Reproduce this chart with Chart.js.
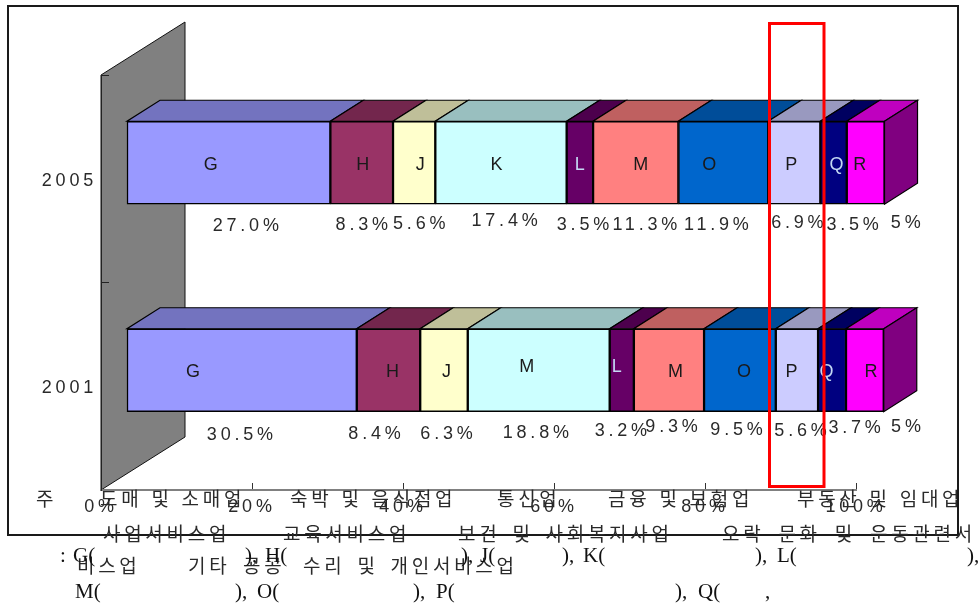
<!DOCTYPE html>
<html lang="ko">
<head>
<meta charset="utf-8">
<title>산업별 구성비</title>
<script src="https://cdn.jsdelivr.net/npm/chart.js@4"></script>
<style>
    html, body { margin: 0; padding: 0; background: #fff; overflow: hidden; }
    #wrap { position: relative; width: 979px; height: 604px; }
    canvas { position: absolute; left: 0; top: 0; }
    .ko, .en { position: absolute; white-space: pre; color: #2a2a2a; }
    .ko { font: 19px/18px "Noto Sans CJK KR", sans-serif; letter-spacing: 3.7px; }
    .en { font: 21px/22px "Liberation Serif", serif; color: #111; }
</style>
</head>
<body>
<div id="wrap">
    <canvas id="myChart" width="979" height="604"></canvas>

    <span class="ko" style="left:36px;top:489px">주</span>
    <span class="ko" style="left:100px;top:489px">도매 및 소매업</span>
    <span class="ko" style="left:290px;top:489px">숙박 및 음식점업</span>
    <span class="ko" style="left:497px;top:489px">통신업</span>
    <span class="ko" style="left:608px;top:489px">금융 및 보험업</span>
    <span class="ko" style="left:797px;top:489px">부동산 및 임대업</span>

    <span class="ko" style="left:103px;top:524px">사업서비스업</span>
    <span class="ko" style="left:283px;top:524px">교육서비스업</span>
    <span class="ko" style="left:458px;top:524px;word-spacing:3px">보건 및 사회복지사업</span>
    <span class="ko" style="left:722px;top:524px;word-spacing:5px">오락 문화 및 운동관련서</span>

    <span class="ko" style="left:77px;top:556px">비스업</span>
    <span class="ko" style="left:188px;top:556px">기타</span>
    <span class="ko" style="left:243px;top:556px">공공</span>
    <span class="ko" style="left:303px;top:556px;word-spacing:3px">수리 및 개인서비스업</span>

    <span class="en" style="left:60px;top:544px">:</span>
    <span class="en" style="left:73px;top:544px">G(</span>
    <span class="en" style="left:245px;top:544px">),</span>
    <span class="en" style="left:265px;top:544px">H(</span>
    <span class="en" style="left:461px;top:544px">),</span>
    <span class="en" style="left:480px;top:544px">J(</span>
    <span class="en" style="left:562px;top:544px">),</span>
    <span class="en" style="left:583px;top:544px">K(</span>
    <span class="en" style="left:755px;top:544px">),</span>
    <span class="en" style="left:777px;top:544px">L(</span>
    <span class="en" style="left:967px;top:544px">),</span>

    <span class="en" style="left:75px;top:580px">M(</span>
    <span class="en" style="left:235px;top:580px">),</span>
    <span class="en" style="left:257px;top:580px">O(</span>
    <span class="en" style="left:413px;top:580px">),</span>
    <span class="en" style="left:436px;top:580px">P(</span>
    <span class="en" style="left:675px;top:580px">),</span>
    <span class="en" style="left:698px;top:580px">Q(</span>
    <span class="en" style="left:765px;top:580px">,</span>
</div>

<script>
const years = ['2005', '2001'];
const sectors = ['G', 'H', 'J', 'K', 'L', 'M', 'O', 'P', 'Q', 'R'];
const values2005 = [27.0, 8.3, 5.6, 17.4, 3.5, 11.3, 11.9, 6.9, 3.5, 5];
const values2001 = [30.5, 8.4, 6.3, 18.8, 3.2, 9.3, 9.5, 5.6, 3.7, 5];
const letters2005 = ['G', 'H', 'J', 'K', 'L', 'M', 'O', 'P', 'Q', 'R'];
const letters2001 = ['G', 'H', 'J', 'M', 'L', 'M', 'O', 'P', 'Q', 'R'];
const rates2005 = ['27.0%', '8.3%', '5.6%', '17.4%', '3.5%', '11.3%', '11.9%', '6.9%', '3.5%', '5%'];
const rates2001 = ['30.5%', '8.4%', '6.3%', '18.8%', '3.2%', '9.3%', '9.5%', '5.6%', '3.7%', '5%'];
const xTicks = [0, 20, 40, 60, 80, 100];

const colors = ['#9999FF', '#993366', '#FFFFCC', '#CCFFFF', '#660066', '#FF8080', '#0066CC', '#CCCCFF', '#000080', '#FF00FF'];

// hand placement of the labels, relative to the middle of each segment
const letterX = [
    [-18, 1, 6, -4.5, 0, 5, -14, -3, 3, -6],
    [-49, 4, 2.5, -12, -5, 6.5, 4, -5.5, -5.5, 6]
];
const letterY = [
    [2, 2, 2, 2, 2, 2, 2, 2, 2, 2],
    [2, 2, 2, -3, -3, 2, 2, 2, 2, 2]
];
const rateX = [
    [19, 2, 7, 5.5, 5, 11, -5, 5, 21, 42],
    [0, -12, 4.5, -1, 1, 4.5, -1.5, 5.5, 24.5, 43]
];
const rateY = [
    [22, 21, 20, 17, 21, 21, 21, 19, 21, 19],
    [23, 22, 22, 21, 19, 15, 18, 19, 16, 15]
];

const SHIFT_X = 25.5, SHIFT_Y = -16;   // bars stand in the middle of the floor
const DEPTH_X = 33, DEPTH_Y = 21;      // depth of the bars
const WALL_X = 84, WALL_Y = 53;        // depth of the back wall
const TRACKING = '3.8px';              // wide spacing of the axis and rate labels


function darker(hex) {
    let r = parseInt(hex.substr(1, 2), 16) * 0.75;
    let g = parseInt(hex.substr(3, 2), 16) * 0.75;
    let b = parseInt(hex.substr(5, 2), 16) * 0.75;
    return `rgb(${r}, ${g}, ${b})`;
}


function poly(ctx, points, fill) {
    ctx.beginPath();
    ctx.moveTo(points[0][0], points[0][1]);
    for (let i = 1; i < points.length; i++) {
        ctx.lineTo(points[i][0], points[i][1]);
    }
    ctx.closePath();
    ctx.fillStyle = fill;
    ctx.fill();
    ctx.stroke();
}


function drawWall(chart) {
    const ctx = chart.ctx;
    const area = chart.chartArea;
    ctx.save();
    ctx.strokeStyle = '#111';
    ctx.lineWidth = 1;
    poly(ctx, [
        [area.left, area.top],
        [area.left + WALL_X, area.top - WALL_Y],
        [area.left + WALL_X, area.bottom - WALL_Y],
        [area.left, area.bottom]
    ], '#808080');
    ctx.restore();
}


function drawTops(chart) {
    const ctx = chart.ctx;
    ctx.strokeStyle = '#000';
    ctx.lineWidth = 1.2;
    sectors.forEach((name, i) => {
        chart.getDatasetMeta(i).data.forEach(bar => {
            const top = bar.y - bar.height / 2;
            poly(ctx, [
                [bar.base, top],
                [bar.x, top],
                [bar.x + DEPTH_X, top - DEPTH_Y],
                [bar.base + DEPTH_X, top - DEPTH_Y]
            ], darker(colors[i]));
        });
    });
    // right end of the stack
    chart.getDatasetMeta(sectors.length - 1).data.forEach(bar => {
        const top = bar.y - bar.height / 2;
        const bottom = bar.y + bar.height / 2;
        poly(ctx, [
            [bar.x, top],
            [bar.x + DEPTH_X, top - DEPTH_Y],
            [bar.x + DEPTH_X, bottom - DEPTH_Y],
            [bar.x, bottom]
        ], '#800080');
    });
}


function drawLabels(chart) {
    const ctx = chart.ctx;
    const letters = [letters2005, letters2001];
    const rates = [rates2005, rates2001];
    ctx.textAlign = 'center';
    ctx.textBaseline = 'middle';
    sectors.forEach((name, i) => {
        chart.getDatasetMeta(i).data.forEach((bar, row) => {
            const middle = (bar.base + bar.x) / 2;
            const bottom = bar.y + bar.height / 2;
            ctx.font = '18px "Liberation Sans", sans-serif';
            ctx.letterSpacing = '0px';
            ctx.fillStyle = (name == 'L' || name == 'Q') ? '#C4D8F4' : '#1a1a1a';
            ctx.fillText(letters[row][i], middle + letterX[row][i], bar.y + letterY[row][i]);
            ctx.letterSpacing = TRACKING;
            ctx.fillStyle = '#2a2a2a';
            ctx.fillText(rates[row][i], middle + rateX[row][i], bottom + rateY[row][i]);
        });
    });
}


const boxPlugin = {
    id: 'box3d',
    beforeDraw(chart) {
        chart.ctx.letterSpacing = TRACKING;
        drawWall(chart);
    },
    beforeDatasetsDraw(chart) {
        chart.ctx.save();
        chart.ctx.translate(SHIFT_X, SHIFT_Y);
        drawTops(chart);
    },
    afterDatasetsDraw(chart) {
        drawLabels(chart);
        chart.ctx.restore();
    },
    afterDraw(chart) {
        const ctx = chart.ctx;
        ctx.save();
        ctx.strokeStyle = '#1a1a1a';
        ctx.lineWidth = 2;
        ctx.strokeRect(8, 6, 950, 529);
        ctx.strokeStyle = '#FF0000';
        ctx.lineWidth = 3;
        ctx.strokeRect(769.5, 23.5, 54.5, 463);
        ctx.restore();
    }
};


function createChart() {
    new Chart(document.getElementById('myChart'), {
        type: 'bar',
        data: {
            labels: years,
            datasets: sectors.map((name, i) => ({
                label: name,
                data: [values2005[i], values2001[i]],
                backgroundColor: colors[i],
                borderColor: '#000',
                borderWidth: 1.5,
                borderSkipped: false,
                barThickness: 83,
                clip: false
            }))
        },
        options: {
            indexAxis: 'y',
            responsive: false,
            animation: false,
            layout: { padding: { left: 0, top: 75, right: 123, bottom: 84 } },
            plugins: { legend: { display: false }, tooltip: { enabled: false } },
            scales: {
                x: {
                    stacked: true,
                    min: 0,
                    max: 100,
                    afterBuildTicks(scale) { scale.ticks = xTicks.map(v => ({ value: v })); },
                    afterFit(scale) { scale.height = 30; },
                    grid: { drawOnChartArea: false, tickLength: -7, tickColor: '#333' },
                    border: { color: '#808080', width: 2 },
                    ticks: {
                        padding: 13,
                        maxRotation: 0,
                        color: '#2a2a2a',
                        font: { family: '"Liberation Sans", sans-serif', size: 18 },
                        callback: v => v + '%'
                    }
                },
                y: {
                    stacked: true,
                    afterFit(scale) { scale.width = 101; },
                    grid: { drawOnChartArea: false, tickLength: -8, tickColor: '#222' },
                    border: { color: '#222', width: 1 },
                    ticks: {
                        padding: 12,
                        labelOffset: 2,
                        color: '#2a2a2a',
                        font: { family: '"Liberation Sans", sans-serif', size: 18 }
                    }
                }
            }
        },
        plugins: [boxPlugin]
    });
}


createChart();
</script>
</body>
</html>
